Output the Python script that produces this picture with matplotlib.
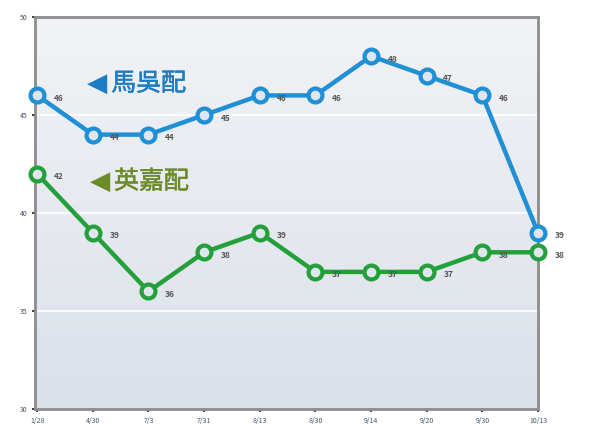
import matplotlib.pyplot as plt
import matplotlib.patheffects as pe
import numpy as np
from matplotlib.colors import LinearSegmentedColormap

plt.rcParams['font.family'] = ['Noto Sans CJK TC', 'DejaVu Sans']

dates = ["1/28", "4/30", "7/3", "7/31", "8/13", "8/30", "9/14", "9/20", "9/30", "10/13"]
ma_wu = [46, 44, 44, 45, 46, 46, 48, 47, 46, 39]
ying_jia = [42, 39, 36, 38, 39, 37, 37, 37, 38, 38]
y_ticks = [30, 35, 40, 45, 50]

fig = plt.figure(figsize=(5.89, 4.24), dpi=100)
ax = fig.add_axes([0.0594, 0.035, 0.854, 0.925])

x = np.arange(len(dates))

# gradient background, light at top
grad = np.linspace(0, 1, 256).reshape(-1, 1)
cmap = LinearSegmentedColormap.from_list("bg", ["#f2f3f6", "#dbe0e9"])
ax.imshow(grad, cmap=cmap, aspect="auto", extent=(-0.1, 9.1, 30, 50),
          zorder=0)

for yt in y_ticks[1:-1]:
    ax.axhline(yt, color="white", lw=1.2, zorder=1)

blue = "#1f8fd6"
green = "#23a03a"
ax.plot(x, ma_wu, color=blue, lw=3.2, marker="o", ms=10, mfc="#dfe6ee",
        mec=blue, mew=3, zorder=3, clip_on=False)
ax.plot(x, ying_jia, color=green, lw=3.2, marker="o", ms=10, mfc="#dfe6ee",
        mec=green, mew=3, zorder=3, clip_on=False)

for xi, v in zip(x, ma_wu):
    ax.annotate(str(v), (xi, v), xytext=(12, -4), textcoords="offset points",
                fontsize=6, color="#555555", fontweight="bold")
for xi, v in zip(x, ying_jia):
    ax.annotate(str(v), (xi, v), xytext=(12, -4), textcoords="offset points",
                fontsize=6, color="#555555", fontweight="bold")

# series names
blue_txt = "#1b7cc4"
green_txt = "#6b8a2c"
ax.text(0.90, 46.6, "◀", color=blue_txt, fontsize=19, va="center",
        family="DejaVu Sans")
ax.text(1.33, 46.6, "馬吳配", color=blue_txt, fontsize=18, va="center",
        path_effects=[pe.withStroke(linewidth=0.35, foreground=blue_txt)])
ax.text(0.95, 41.6, "◀", color=green_txt, fontsize=19, va="center",
        family="DejaVu Sans")
ax.text(1.38, 41.6, "英嘉配", color=green_txt, fontsize=18, va="center",
        path_effects=[pe.withStroke(linewidth=0.35, foreground=green_txt)])

ax.set_xlim(-0.04, 9.0)
ax.set_ylim(30, 50)
ax.set_yticks(y_ticks)
ax.set_xticks(x)
ax.set_xticklabels(dates)
ax.tick_params(labelsize=5, colors="#444444", length=2, width=1.5,
               labelcolor="#445566")
for s in ax.spines.values():
    s.set_color("#8c8c8c")
    s.set_linewidth(2)

fig.savefig("out.png", dpi=100)
